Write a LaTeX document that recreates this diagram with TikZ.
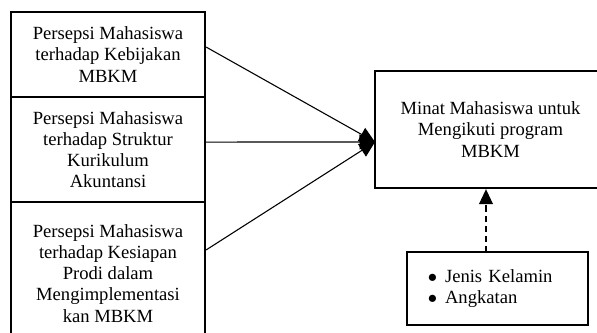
\documentclass[tikz,border=0pt]{standalone}
\usepackage{fontspec}
\setmainfont{Liberation Serif}
\usepackage{tikz}
\usetikzlibrary{arrows.meta, positioning, calc}

\tikzset{
  kotak/.style={draw, line width=1.5pt, align=center, inner sep=2pt,
    font=\fontsize{12pt}{13.6pt}\selectfont},
  garis/.style={line width=0.7pt, -{Triangle[length=10pt, width=9.5pt]}}
}

\begin{document}
\begin{tikzpicture}[x=0.645pt, y=-0.645pt]
        \useasboundingbox (0,0) rectangle (597,333);
        \clip (0,0) rectangle (597,333);

        % Variabel bebas (kiri)
        \node[kotak, minimum width=125.1pt, minimum height=54.8pt] (kebijakan) at (108,54.5)
          {Persepsi Mahasiswa\\terhadap Kebijakan\\MBKM};
        \node[kotak, minimum width=125.1pt, minimum height=67.7pt] (kurikulum) at (108,149.5)
          {Persepsi Mahasiswa\\terhadap Struktur\\Kurikulum\\Akuntansi};
        \node[kotak, minimum width=125.1pt, minimum height=92.2pt] (kesiapan) at (108,273.5)
          {Persepsi Mahasiswa\\terhadap Kesiapan\\Prodi dalam\\Mengimplementasi\\kan MBKM};

        % Variabel terikat (kanan)
        \node[kotak, minimum width=149pt, minimum height=75.5pt] (minat) at (490.5,129.5)
          {Minat Mahasiswa untuk\\Mengikuti program\\MBKM};

        % Variabel kontrol
        \node[kotak, text width=89.7pt, inner xsep=13.5pt, minimum height=47.1pt, align=left] (kontrol) at (497.5,288.5)
          {$\bullet$\hspace{5pt}Jenis Kelamin\\$\bullet$\hspace{5pt}Angkatan};

        \coordinate (temu) at (375,142);
        \coordinate (atas) at (486,252);

        \draw[garis] ([yshift=4.8pt]kebijakan.east) -- (temu);
        \draw[garis] ([yshift=4.8pt]kurikulum.east) -- (temu);
        \draw[garis] ([yshift=15.2pt]kesiapan.east) -- (temu);
        \draw[line width=0.7pt, dash pattern=on 4pt off 2.5pt, -{Triangle[length=9.7pt, width=9pt]}]
          (atas) -- (atas |- minat.south);
      \end{tikzpicture}
\end{document}
